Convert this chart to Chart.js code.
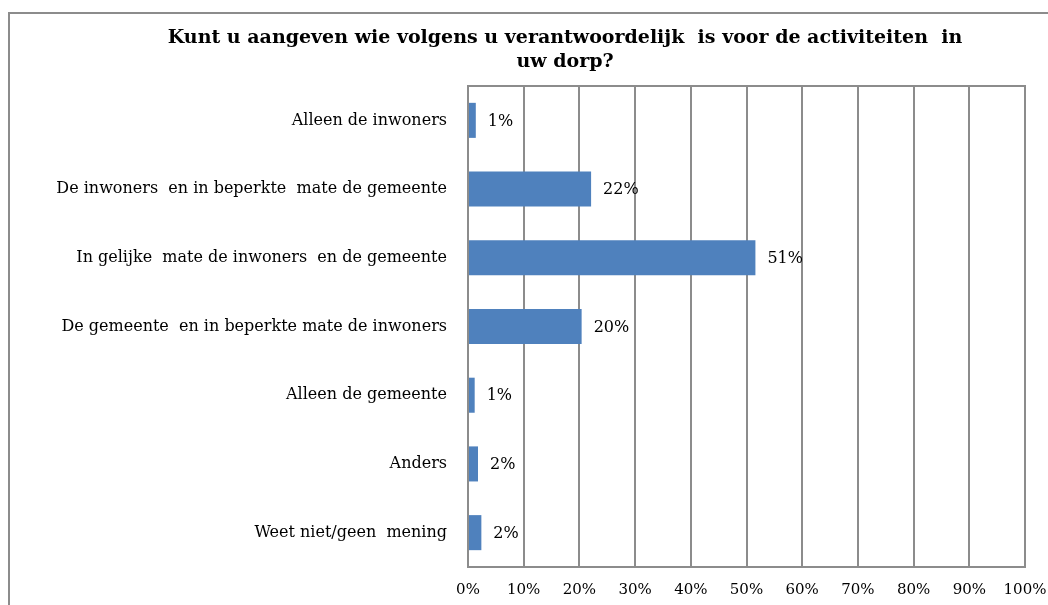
<!DOCTYPE html>
<html>
<head>
<meta charset="utf-8">
<script src="https://cdn.jsdelivr.net/npm/chart.js@4/dist/chart.umd.min.js"></script>
<style>
    html, body { margin: 0; padding: 0; background: #fff; overflow: hidden; }
    #wrap { position: relative; width: 1048px; height: 605px; }
    #frame {
        position: absolute; left: 8px; top: 12px;
        width: 1200px; height: 700px;
        border: 2px solid #8c8c8c;
    }
    #chart { position: absolute; left: 0; top: 0; }
</style>
</head>
<body>
<div id="wrap">
    <div id="frame"></div>
    <canvas id="chart" width="1048" height="605"></canvas>
</div>
<script>
// Gegevens uit de grafiek
const titleLines = ['Kunt u aangeven wie volgens u verantwoordelijk  is voor de activiteiten  in', 'uw dorp?'];
const categories = [
    'Alleen de inwoners',
    'De inwoners  en in beperkte  mate de gemeente',
    'In gelijke  mate de inwoners  en de gemeente',
    'De gemeente  en in beperkte mate de inwoners',
    'Alleen de gemeente',
    'Anders',
    'Weet niet/geen  mening'
];
const percentages = [1.4, 22.1, 51.6, 20.4, 1.2, 1.8, 2.4];
const valueLabels = ['1%', '22%', '51%', '20%', '1%', '2%', '2%'];
const xTicks = [0, 10, 20, 30, 40, 50, 60, 70, 80, 90, 100];

const serif = "'DejaVu Serif', 'Liberation Serif', serif";
const gridGray = '#8c8c8c';
const plotLeft = 468, plotRight = 1025, plotTop = 86, plotBottom = 567;

// Titel (gecentreerd op het hele kader, niet op de canvas)
const titlePlugin = {
    id: 'frameTitle',
    afterDraw(chart) {
        const ctx = chart.ctx;
        ctx.save();
        ctx.font = 'bold 19px ' + serif;
        ctx.fillStyle = '#000';
        ctx.textAlign = 'center';
        ctx.textBaseline = 'middle';
        ctx.fillText(titleLines[0], 565, 38);
        ctx.fillText(titleLines[1], 565, 62);
        ctx.restore();
    }
};

// Waarden rechts naast de balken
const valueLabelPlugin = {
    id: 'valueLabels',
    afterDatasetsDraw(chart) {
        const ctx = chart.ctx;
        const meta = chart.getDatasetMeta(0);
        ctx.save();
        ctx.font = '16px ' + serif;
        ctx.fillStyle = '#000';
        ctx.textAlign = 'left';
        ctx.textBaseline = 'middle';
        meta.data.forEach((bar, i) => {
            ctx.fillText(valueLabels[i], bar.x + 12, bar.y + 1);
        });
        ctx.restore();
    }
};

// Bovenrand van het plotgebied
const topBorderPlugin = {
    id: 'topBorder',
    afterDraw(chart) {
        const a = chart.chartArea;
        const ctx = chart.ctx;
        ctx.save();
        ctx.strokeStyle = gridGray;
        ctx.lineWidth = 2;
        ctx.beginPath();
        ctx.moveTo(a.left - 1, a.top);
        ctx.lineTo(a.right + 1, a.top);
        ctx.stroke();
        ctx.restore();
    }
};

new Chart(document.getElementById('chart'), {
    type: 'bar',
    data: {
        labels: categories,
        datasets: [{
            data: percentages,
            backgroundColor: '#4f81bd',
            borderWidth: 0,
            barPercentage: 0.51,
            categoryPercentage: 1
        }]
    },
    options: {
        indexAxis: 'y',
        responsive: false,
        animation: false,
        layout: { padding: { left: 0, right: 1048 - plotRight, top: plotTop, bottom: 0 } },
        plugins: {
            legend: { display: false },
            tooltip: { enabled: false },
            title: { display: false }
        },
        scales: {
            x: {
                min: 0,
                max: 100,
                afterBuildTicks(scale) {
                    scale.ticks = xTicks.map(v => ({ value: v }));
                },
                afterFit(scale) {
                    scale.height = 605 - plotBottom;
                    scale.paddingLeft = 0;
                    scale.paddingRight = 0;
                },
                ticks: {
                    callback: v => v + '%',
                    color: '#000',
                    font: { family: serif, size: 15 },
                    padding: 14,
                    maxRotation: 0
                },
                grid: { color: gridGray, lineWidth: 2, drawTicks: false },
                border: { display: true, color: gridGray, width: 2 }
            },
            y: {
                afterFit(scale) {
                    scale.width = plotLeft;
                    scale.paddingTop = 0;
                    scale.paddingBottom = 0;
                },
                ticks: {
                    color: '#000',
                    font: { family: serif, size: 16 },
                    padding: 21
                },
                grid: { display: false, drawTicks: false },
                border: { display: true, color: gridGray, width: 2 }
            }
        }
    },
    plugins: [valueLabelPlugin, topBorderPlugin, titlePlugin]
});
</script>
</body>
</html>
